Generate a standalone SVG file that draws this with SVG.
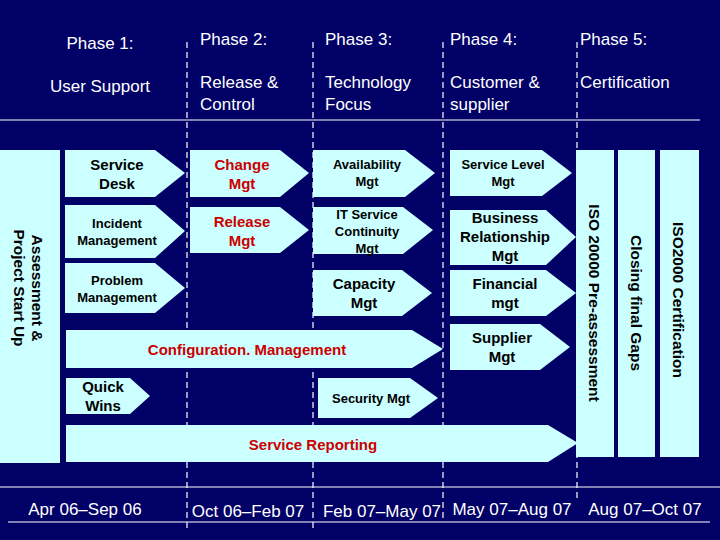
<svg xmlns="http://www.w3.org/2000/svg" width="720" height="540" viewBox="0 0 720 540">
<style>
.h{font-family:"Liberation Sans",Arial,sans-serif;font-size:17px;fill:#fff}
.b{fill:#ccffff}
.t{font-family:"Liberation Sans",Arial,sans-serif;font-weight:bold;fill:#000;text-anchor:middle}
.r{fill:#cc0000}
.d{stroke:#fff;stroke-width:1.2;stroke-dasharray:6,4}
</style>
<rect width="720" height="540" fill="#000066"/>
<g id="grid">
<line x1="0" y1="120" x2="700" y2="120" stroke="#fff" stroke-width="1.2"/>
<line x1="0" y1="487" x2="720" y2="487" stroke="#fff" stroke-width="1.2"/>
<line x1="8" y1="522" x2="710" y2="522" stroke="#fff" stroke-width="1.2"/>
<line class="d" x1="187" y1="42" x2="187" y2="530"/>
<line class="d" x1="313" y1="42" x2="313" y2="530"/>
<line class="d" x1="443" y1="42" x2="443" y2="520"/>
<line class="d" x1="577" y1="42" x2="577" y2="500"/>
</g>
<g id="headers">
<text class="h" x="100" y="49" text-anchor="middle">Phase 1:</text>
<text class="h" x="100" y="92" text-anchor="middle">User Support</text>
<text class="h" x="200" y="45">Phase 2:</text>
<text class="h" x="200" y="88">Release &amp;</text>
<text class="h" x="200" y="110">Control</text>
<text class="h" x="325" y="45">Phase 3:</text>
<text class="h" x="325" y="88">Technology</text>
<text class="h" x="325" y="110">Focus</text>
<text class="h" x="450" y="45">Phase 4:</text>
<text class="h" x="450" y="88">Customer &amp;</text>
<text class="h" x="450" y="110">supplier</text>
<text class="h" x="580" y="45">Phase 5:</text>
<text class="h" x="580" y="88">Certification</text>
<text class="h" x="85" y="515" text-anchor="middle" font-size="15">Apr 06–Sep 06</text>
<text class="h" x="248" y="517" text-anchor="middle" font-size="15">Oct 06–Feb 07</text>
<text class="h" x="382" y="517" text-anchor="middle" font-size="15">Feb 07–May 07</text>
<text class="h" x="512" y="515" text-anchor="middle" font-size="15">May 07–Aug 07</text>
<text class="h" x="645" y="515" text-anchor="middle" font-size="15">Aug 07–Oct 07</text>
</g>
<g id="assessment"><rect class="b" x="0" y="150" width="60" height="313"/>
<text class="t" font-size="15.5" transform="translate(28,288) rotate(90)"><tspan x="0" dy="-4">Assessment &amp;</tspan><tspan x="0" dy="18">Project Start Up</tspan></text></g>
<g id="service-desk"><polygon class="b" points="65,150 155,150 185,173 155,197 65,197"/><text class="t" font-size="15" x="117" y="170">Service<tspan x="117" dy="19">Desk</tspan></text></g>
<g id="incident"><polygon class="b" points="65,205 155,205 185,231 155,258 65,258"/><text class="t" font-size="13" x="117" y="228">Incident<tspan x="117" dy="17">Management</tspan></text></g>
<g id="problem"><polygon class="b" points="65,263 155,263 185,288 155,313 65,313"/><text class="t" font-size="13" x="117" y="285">Problem<tspan x="117" dy="17">Management</tspan></text></g>
<g id="config"><polygon class="b" points="66,330 412,330 443,349 412,368 66,368"/><text class="t r" font-size="15" x="247" y="355">Configuration. Management</text></g>
<g id="quick-wins"><polygon class="b" points="66,378 130,378 150,396 130,414 66,414"/><text class="t" font-size="15" x="103" y="392">Quick<tspan x="103" dy="19">Wins</tspan></text></g>
<g id="service-reporting"><polygon class="b" points="66,425 548,425 578,443 548,462 66,462"/><text class="t r" font-size="15" x="313" y="450">Service Reporting</text></g>
<g id="change"><polygon class="b" points="190,150 280,150 309,173 280,197 190,197"/><text class="t r" font-size="15" x="242" y="170">Change<tspan x="242" dy="19">Mgt</tspan></text></g>
<g id="release"><polygon class="b" points="190,207 280,207 309,230 280,253 190,253"/><text class="t r" font-size="15" x="242" y="227">Release<tspan x="242" dy="19">Mgt</tspan></text></g>
<g id="availability"><polygon class="b" points="313,150 405,150 435,173 405,197 313,197"/><text class="t" font-size="13" x="367" y="169">Availability<tspan x="367" dy="17">Mgt</tspan></text></g>
<g id="itsc"><polygon class="b" points="313,207 403,207 433,230 403,254 313,254"/><text class="t" font-size="13" x="367" y="219">IT Service<tspan x="367" dy="17">Continuity</tspan><tspan x="367" dy="17">Mgt</tspan></text></g>
<g id="capacity"><polygon class="b" points="313,270 402,270 432,293 402,316 313,316"/><text class="t" font-size="15" x="364" y="289">Capacity<tspan x="364" dy="19">Mgt</tspan></text></g>
<g id="security"><polygon class="b" points="318,378 410,378 438,398 410,418 318,418"/><text class="t" font-size="13" x="371" y="403">Security Mgt</text></g>
<g id="slm"><polygon class="b" points="450,150 542,150 572,173 542,196 450,196"/><text class="t" font-size="13" x="503" y="169">Service Level<tspan x="503" dy="17">Mgt</tspan></text></g>
<g id="brm"><polygon class="b" points="450,210 546,210 576,237 546,265 450,265"/><text class="t" font-size="15" x="505" y="223">Business<tspan x="505" dy="19">Relationship</tspan><tspan x="505" dy="19">Mgt</tspan></text></g>
<g id="financial"><polygon class="b" points="450,270 546,270 576,293 546,316 450,316"/><text class="t" font-size="15" x="505" y="289">Financial<tspan x="505" dy="19">mgt</tspan></text></g>
<g id="supplier"><polygon class="b" points="450,324 540,324 570,347 540,370 450,370"/><text class="t" font-size="15" x="502" y="343">Supplier<tspan x="502" dy="19">Mgt</tspan></text></g>
<g id="pre-assessment"><rect class="b" x="576" y="150" width="38" height="307"/><text class="t" font-size="15.5" transform="translate(589,303) rotate(90)">ISO 20000 Pre-assessment</text></g>
<g id="closing-gaps"><rect class="b" x="618" y="150" width="37" height="307"/><text class="t" font-size="15.5" transform="translate(631,303) rotate(90)">Closing final Gaps</text></g>
<g id="certification"><rect class="b" x="660" y="150" width="39" height="307"/><text class="t" font-size="15.5" transform="translate(673,300) rotate(90)">ISO2000 Certification</text></g>
<g id="connectors"></g>
</svg>
